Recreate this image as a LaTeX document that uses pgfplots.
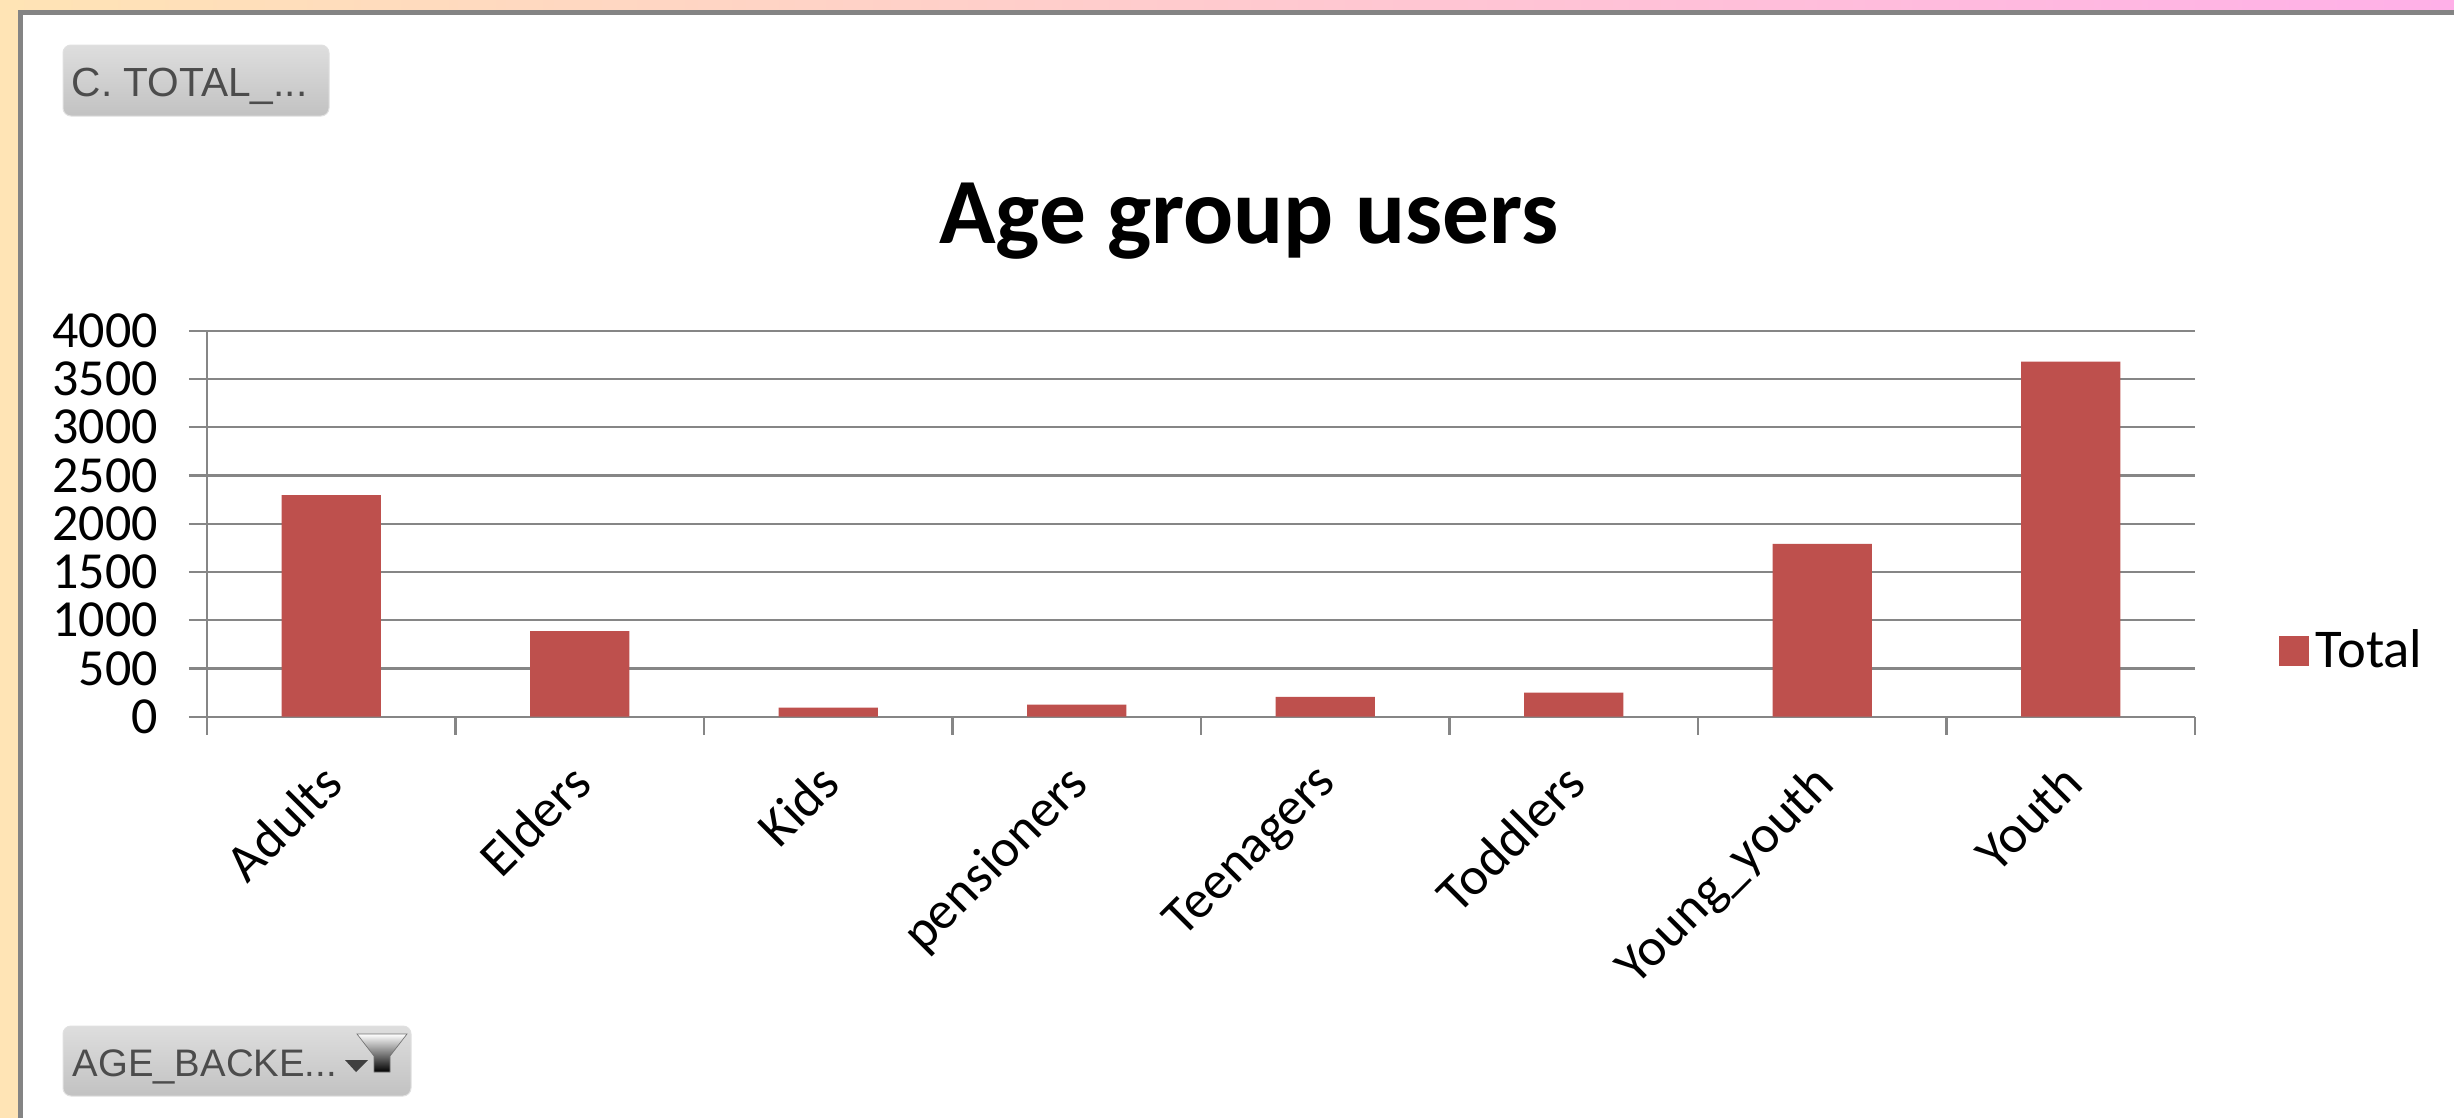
\documentclass[border=0pt]{standalone}
\usepackage{pgfplots}
\usepackage{fontspec}
\pgfplotsset{compat=1.18}
\setmainfont{Carlito}
\newfontfamily\btnfont{Liberation Sans}
\definecolor{barcol}{HTML}{BE504D}
\definecolor{gridcol}{HTML}{868686}
\definecolor{framecol}{HTML}{848484}
\definecolor{bgleft}{HTML}{FFE4B5}
\definecolor{bgright}{HTML}{FFB0E8}
\begin{document}
\begin{tikzpicture}[x=0.3pt,y=-0.3pt]
\useasboundingbox (0,0) rectangle (2454,1118);
% window background and chart panel
\shade[left color=bgleft,right color=bgright] (0,0) rectangle (2454,1118);
\fill[framecol] (18,10) rectangle (2454,1118);
\fill[white] (23,15) rectangle (2454,1118);
% pivot field buttons
\shade[top color=black!13,bottom color=black!24,draw=black!12,line width=0.3pt,rounded corners=2.4pt]
  (63,45) rectangle (329,116);
\node[anchor=base west,inner sep=0pt,text=black!70] at (71,96) {\btnfont\fontsize{12.2}{14}\selectfont C. TOTAL\_...};
\shade[top color=black!13,bottom color=black!24,draw=black!12,line width=0.3pt,rounded corners=2.4pt]
  (63,1026) rectangle (411,1096);
\node[anchor=base west,inner sep=0pt,text=black!70] at (72,1076) {\btnfont\fontsize{11.5}{14}\selectfont AGE\_BACKE...};
\fill[black!75] (345,1060) -- (368,1060) -- (356,1072) -- cycle;
\shade[top color=white,bottom color=black,draw=black!55,line width=0.2pt]
  (357,1034) -- (407,1034) -- (390,1056) -- (390,1072) -- (374,1072) -- (374,1056) -- cycle;
\node[anchor=base,inner sep=0pt] at (1249,243) {\fontsize{28}{32}\selectfont\bfseries Age group users};
\coordinate (o) at (207,716.7);
\begin{axis}[
  at={(o)}, anchor=south west,
  width=596.4pt, height=115.8pt, scale only axis,
  xmin=0, xmax=8, ymin=0, ymax=4000,
  axis x line*=bottom, axis y line*=left,
  axis line style={gridcol,line width=0.65pt,-},
  tick style={gridcol,line width=0.65pt},
  tick align=outside,
  major tick length=5.4pt,
  minor tick length=5.4pt,
  xtick={0.5,1.5,2.5,3.5,4.5,5.5,6.5,7.5},
  minor xtick={0,1,2,3,4,5,6,7,8},
  x tick style={draw=none},
  minor x tick style={draw=gridcol,line width=0.65pt},
  xticklabels={Adults,Elders,Kids,pensioners,Teenagers,Toddlers,Young\_youth,Youth},
  x tick label style={rotate=45,anchor=north east,font=\fontsize{16}{18}\selectfont,inner sep=0pt,xshift=-7.8pt,yshift=-2.7pt},
  ytick={0,500,1000,1500,2000,2500,3000,3500,4000},
  y tick label style={font=\fontsize{15.6}{18}\selectfont,/pgf/number format/1000 sep={},inner sep=0pt,xshift=-9.1pt},
  /pgf/number format/assume math mode=true,
  ymajorgrids, grid style={gridcol,line width=0.65pt},
  legend style={at={(1.0418,0.17)},anchor=west,draw=none,fill=none,inner sep=0pt,
    font=\fontsize{16.4}{18}\selectfont,/tikz/every even column/.append style={column sep=0pt}},
  legend cell align=left,
  legend image code/.code={\fill[barcol] (0pt,-4.5pt) rectangle (9pt,4.5pt);},
]
\addplot[ybar,bar width=29.8pt,fill=barcol,draw=none,bar shift=0pt] coordinates {
(0.5,2297) (1.5,888) (2.5,95) (3.5,125) (4.5,205) (5.5,250) (6.5,1790) (7.5,3680)
};
\addlegendentry{Total}
\end{axis}
\end{tikzpicture}
\end{document}
